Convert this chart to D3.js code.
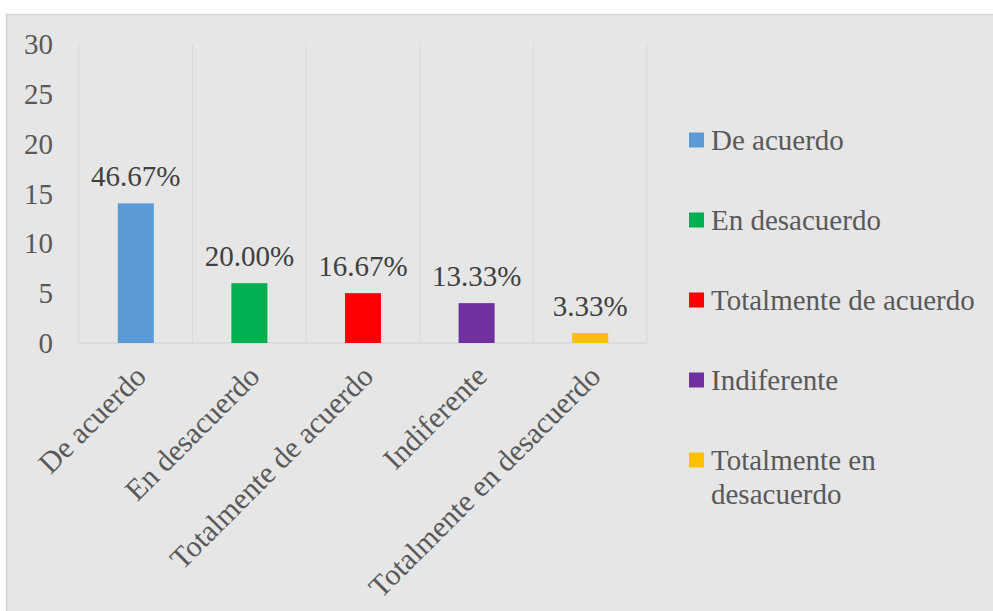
<!DOCTYPE html>
<html>
<head>
<meta charset="utf-8">
<script src="https://cdn.jsdelivr.net/npm/d3@7"></script>
<style>
  body { margin: 0; background: #fff; }
  svg text { font-family: "Liberation Serif", "Times New Roman", serif !important; }
</style>
</head>
<body>
<div id="chart"></div>
<script>
"use strict";

// data
var categories = ["De acuerdo", "En desacuerdo", "Totalmente de acuerdo", "Indiferente", "Totalmente en desacuerdo"];
var values = [14, 6, 5, 4, 1];
var pctLabels = ["46.67%", "20.00%", "16.67%", "13.33%", "3.33%"];
var colors = ["#5b9bd5", "#00b050", "#ff0000", "#7030a0", "#ffc000"];
var yTicks = [0, 5, 10, 15, 20, 25, 30];

var W = 993, H = 611;
var margin = {left: 79, right: 346, top: 44, bottom: 268};
var w = W - margin.left - margin.right;
var h = H - margin.top - margin.bottom;

var svg = d3.select("#chart").append("svg")
    .attr("width", W)
    .attr("height", H)
    .attr("font-family", "'Liberation Serif', 'Times New Roman', serif");

// chart area background
svg.append("rect")
    .attr("x", 6.5).attr("y", 14.5)
    .attr("width", W).attr("height", H)
    .attr("fill", "#e6e6e6")
    .attr("stroke", "#d4d4d4")
    .attr("stroke-width", 1.5);

var g = svg.append("g")
    .attr("transform", "translate(" + margin.left + "," + margin.top + ")");

var x = d3.scaleBand()
    .domain(categories)
    .range([0, w])
    .padding(0);

var y = d3.scaleLinear()
    .domain([0, 30])
    .range([h, 0]);

// vertical gridlines at category boundaries
var bounds = categories.map(function(d) { return x(d); }).concat([w]);
g.selectAll("line.grid")
    .data(bounds)
    .enter().append("line")
    .attr("class", "grid")
    .attr("x1", function(d) { return d; })
    .attr("x2", function(d) { return d; })
    .attr("y1", 0)
    .attr("y2", h)
    .attr("stroke", "#d9d9d9")
    .attr("stroke-width", 1);

// baseline
g.append("line")
    .attr("x1", 0).attr("x2", w)
    .attr("y1", h).attr("y2", h)
    .attr("stroke", "#d9d9d9")
    .attr("stroke-width", 1.5);

// y axis labels
var yAxis = g.append("g")
    .call(d3.axisLeft(y).tickValues(yTicks).tickSize(0).tickPadding(26));
yAxis.attr("font-family", null).attr("font-size", null);
yAxis.select(".domain").remove();
yAxis.selectAll("text")
    .attr("fill", "#595959")
    .attr("dy", "0.33em")
    .style("font-size", "29px");

// bars
var barW = x.bandwidth() * 0.317;
g.selectAll("rect.bar")
    .data(values)
    .enter().append("rect")
    .attr("class", "bar")
    .attr("x", function(d, i) { return x(categories[i]) + x.bandwidth() / 2 - barW / 2; })
    .attr("y", function(d) { return y(d); })
    .attr("width", barW)
    .attr("height", function(d) { return h - y(d); })
    .attr("fill", function(d, i) { return colors[i]; });

// data labels
g.selectAll("text.lbl")
    .data(values)
    .enter().append("text")
    .attr("class", "lbl")
    .attr("x", function(d, i) { return x(categories[i]) + x.bandwidth() / 2; })
    .attr("y", function(d) { return y(d) - 17; })
    .attr("text-anchor", "middle")
    .attr("fill", "#404040")
    .style("font-size", "29px")
    .text(function(d, i) { return pctLabels[i]; });

// rotated category labels
g.selectAll("text.cat")
    .data(categories)
    .enter().append("text")
    .attr("class", "cat")
    .attr("transform", function(d) {
        return "translate(" + (x(d) + x.bandwidth() / 2 - 3) + "," + (h + 20) + ") rotate(-45)";
    })
    .attr("text-anchor", "end")
    .attr("dy", "0.71em")
    .attr("fill", "#595959")
    .style("font-size", "30px")
    .text(function(d) { return d; });

// legend
var legendY = [140, 220, 300, 380, 460];
var legend = svg.selectAll("g.legend")
    .data(categories)
    .enter().append("g")
    .attr("class", "legend")
    .attr("transform", function(d, i) { return "translate(689," + legendY[i] + ")"; });

legend.append("rect")
    .attr("x", 0).attr("y", -7.5)
    .attr("width", 15).attr("height", 15)
    .attr("fill", function(d, i) { return colors[i]; });

legend.append("text")
    .attr("x", 22)
    .attr("y", 0)
    .attr("dy", "0.33em")
    .attr("fill", "#595959")
    .style("font-size", "29px")
    .each(function(d) {
        var t = d3.select(this);
        if (d === "Totalmente en desacuerdo") {
            t.append("tspan").attr("x", 22).text("Totalmente en");
            t.append("tspan").attr("x", 22).attr("dy", "1.18em").text("desacuerdo");
        } else {
            t.text(d);
        }
    });
</script>
</body>
</html>
